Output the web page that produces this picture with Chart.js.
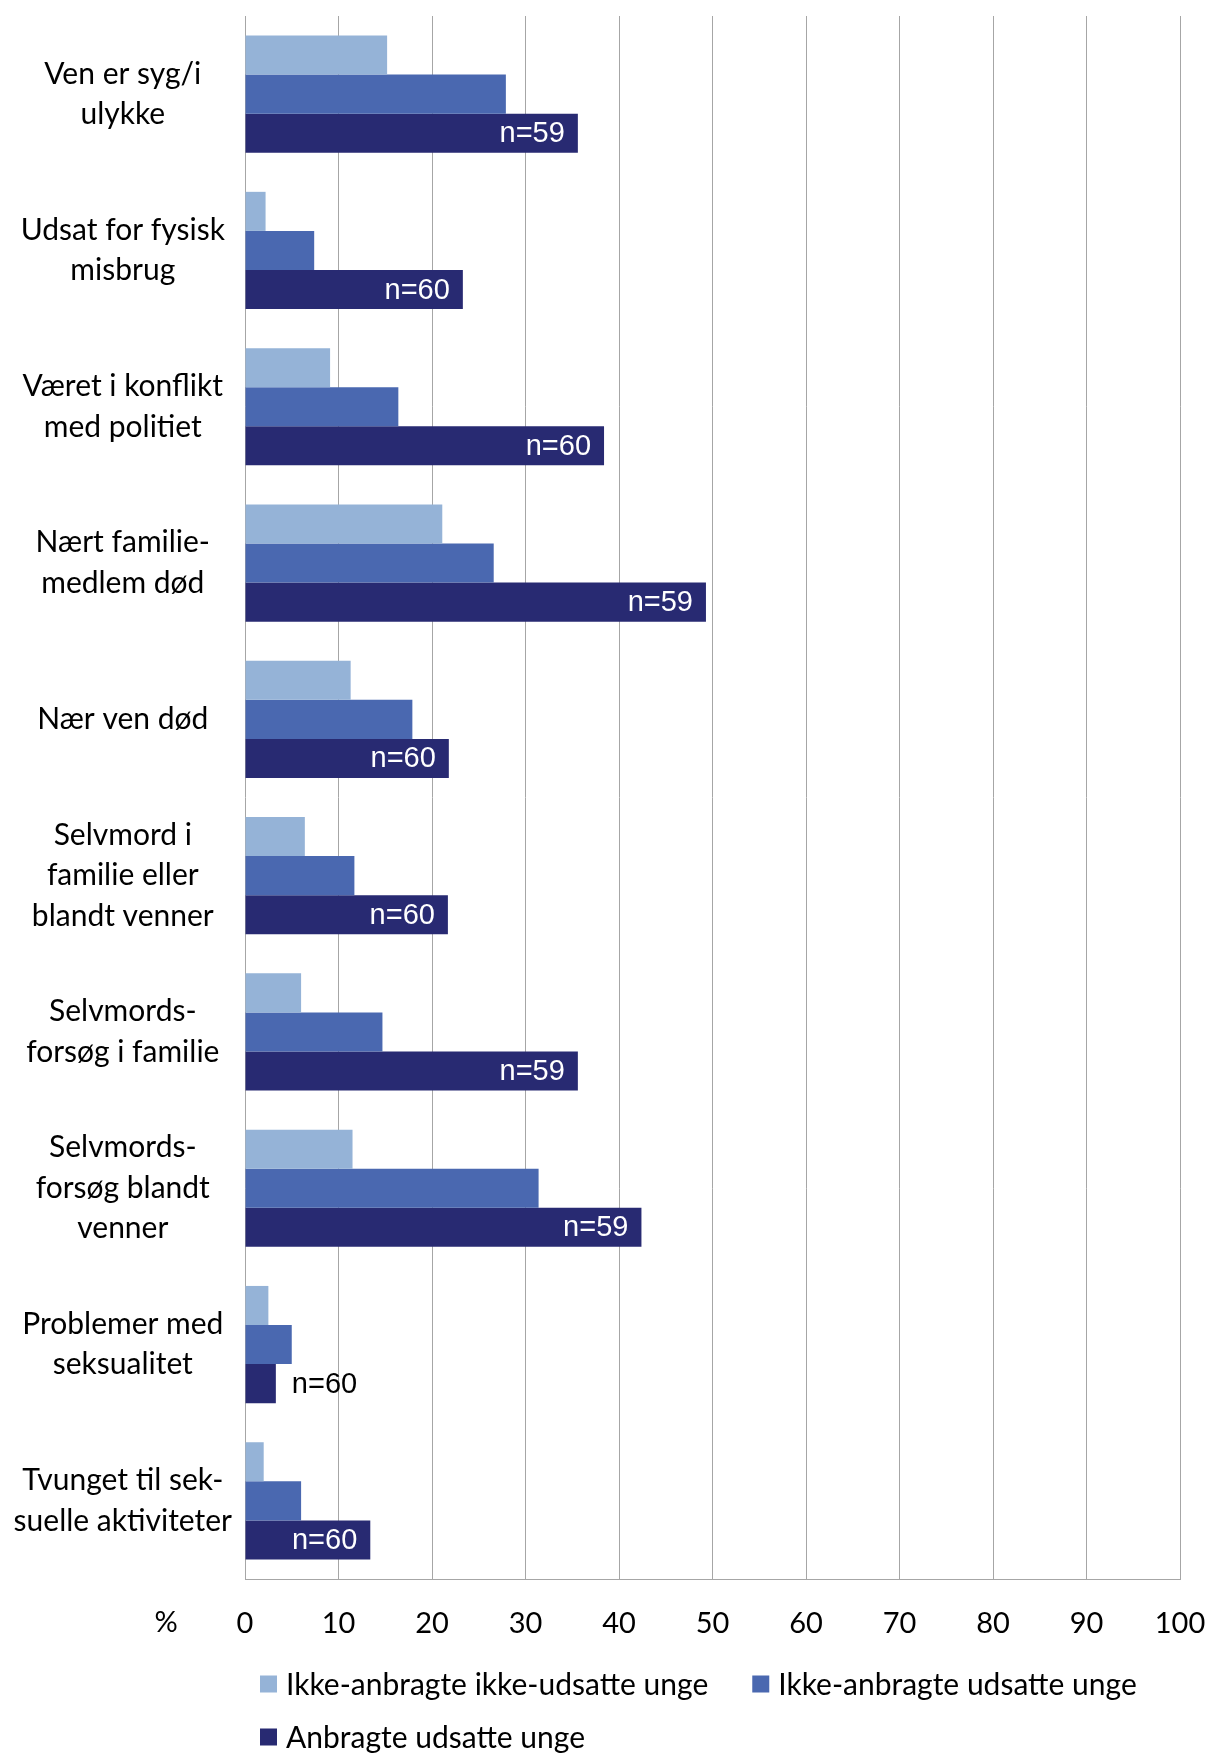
<!DOCTYPE html>
<html><head><meta charset="utf-8">
<script src="https://cdn.jsdelivr.net/npm/chart.js@4/dist/chart.umd.min.js"></script>
<style>html,body{margin:0;padding:0;background:#fff;} #wrap{width:1208px;height:1754px;position:relative;}</style>
</head><body><div id="wrap"><canvas id="c"></canvas></div>
<script>
const categories = [
  ["Ven er syg/i", "ulykke"],
  ["Udsat for fysisk", "misbrug"],
  ["Været i konflikt", "med politiet"],
  ["Nært familie-", "medlem død"],
  ["Nær ven død"],
  ["Selvmord i", "familie eller", "blandt venner"],
  ["Selvmords-", "forsøg i familie"],
  ["Selvmords-", "forsøg blandt", "venner"],
  ["Problemer med", "seksualitet"],
  ["Tvunget til sek-", "suelle aktiviteter"]
];
const seriesNames = ["Ikke-anbragte ikke-udsatte unge", "Ikke-anbragte udsatte unge", "Anbragte udsatte unge"];
const ikkeAnbragteIkkeUdsatte = [15.2, 2.2, 9.1, 21.1, 11.3, 6.4, 6.0, 11.5, 2.5, 2.0];
const ikkeAnbragteUdsatte = [27.9, 7.4, 16.4, 26.6, 17.9, 11.7, 14.7, 31.4, 5.0, 6.0];
const anbragteUdsatte = [35.6, 23.3, 38.4, 49.3, 21.8, 21.7, 35.6, 42.4, 3.3, 13.4];
const nLabels = ["n=59", "n=60", "n=60", "n=59", "n=60", "n=60", "n=59", "n=59", "n=60", "n=60"];
const xTicks = [0, 10, 20, 30, 40, 50, 60, 70, 80, 90, 100];
const axisUnit = "%";

const colors = ["#95B3D7", "#4A68B0", "#282A72"];
const labelFont = "Lato";

const nLabelPlugin = {
  id: 'nLabels',
  afterDatasetsDraw(chart) {
    const meta = chart.getDatasetMeta(2);
    const ctx = chart.ctx;
    ctx.save();
    ctx.font = '29px "Liberation Sans", Arial, sans-serif';
    ctx.textBaseline = 'middle';
    meta.data.forEach((bar, i) => {
      const txt = nLabels[i];
      const w = ctx.measureText(txt).width;
      const len = bar.x - bar.base;
      if (len > w + 26) {
        ctx.fillStyle = '#ffffff';
        ctx.textAlign = 'right';
        ctx.fillText(txt, bar.x - 13, bar.y + 1);
      } else {
        ctx.fillStyle = '#000000';
        ctx.textAlign = 'left';
        ctx.fillText(txt, bar.x + 16, bar.y + 1);
      }
    });
    ctx.restore();
  }
};

const unitPlugin = {
  id: 'unitLabel',
  afterDraw(chart) {
    const xs = chart.scales.x;
    const ctx = chart.ctx;
    ctx.save();
    ctx.font = '29px ' + labelFont;
    ctx.fillStyle = '#000';
    ctx.textAlign = 'center';
    ctx.textBaseline = 'middle';
    ctx.fillText(axisUnit, xs.left - 79, chart.chartArea.bottom + 44);
    ctx.restore();
  }
};

// Legend drawn below the axis, left-aligned with the plot (rows wrap like the original)
const legendPlugin = {
  id: 'leftLegend',
  afterDraw(chart) {
    const ctx = chart.ctx;
    const area = chart.chartArea;
    const box = 17, gap = 9, itemGap = 44, rowH = 53;
    const x0 = area.left + 15;
    let x = x0, y = area.bottom + 105;
    ctx.save();
    ctx.font = '30px ' + labelFont;
    ctx.textBaseline = 'middle';
    ctx.textAlign = 'left';
    chart.data.datasets.forEach((ds, i) => {
      const w = box + gap + ctx.measureText(ds.label).width;
      if (x > x0 && x + w > area.right) { x = x0; y += rowH; }
      ctx.fillStyle = ds.backgroundColor;
      ctx.fillRect(x, y - box / 2, box, box);
      ctx.fillStyle = '#000';
      ctx.fillText(ds.label, x + box + gap, y + 1);
      x += w + itemGap;
    });
    ctx.restore();
  }
};

new Chart(document.getElementById('c'), {
  type: 'bar',
  data: {
    labels: categories,
    datasets: [
      { label: seriesNames[0], data: ikkeAnbragteIkkeUdsatte, backgroundColor: colors[0], borderWidth: 0 },
      { label: seriesNames[1], data: ikkeAnbragteUdsatte, backgroundColor: colors[1], borderWidth: 0 },
      { label: seriesNames[2], data: anbragteUdsatte, backgroundColor: colors[2], borderWidth: 0 }
    ]
  },
  options: {
    indexAxis: 'y',
    responsive: true,
    maintainAspectRatio: false,
    animation: false,
    datasets: { bar: { categoryPercentage: 0.75, barPercentage: 1.0 } },
    layout: { padding: { top: 16, right: 28, left: 0, bottom: 110 } },
    scales: {
      x: {
        min: 0, max: 100,
        afterBuildTicks: s => { s.ticks = xTicks.map(v => ({ value: v })); },
        afterFit: s => { s.paddingLeft = 0; s.paddingRight = 0; s.height = 65; },
        grid: { color: '#A6A6A6', lineWidth: 1, drawTicks: false },
        border: { display: true, color: '#A6A6A6' },
        ticks: { font: { family: labelFont, size: 29, lineHeight: 1.4 }, color: '#000', padding: 24, maxRotation: 0, autoSkip: false }
      },
      y: {
        grid: { display: false, drawTicks: false },
        border: { display: false },
        afterFit: s => { s.width = 245; s.paddingTop = 0; s.paddingBottom = 0; },
        ticks: { font: { family: labelFont, size: 30, lineHeight: 1.35 }, color: '#000', crossAlign: 'center', padding: 13, autoSkip: false }
      }
    },
    plugins: {
      legend: { display: false },
      tooltip: { enabled: false }
    }
  },
  plugins: [nLabelPlugin, unitPlugin, legendPlugin]
});
</script>
</body></html>
